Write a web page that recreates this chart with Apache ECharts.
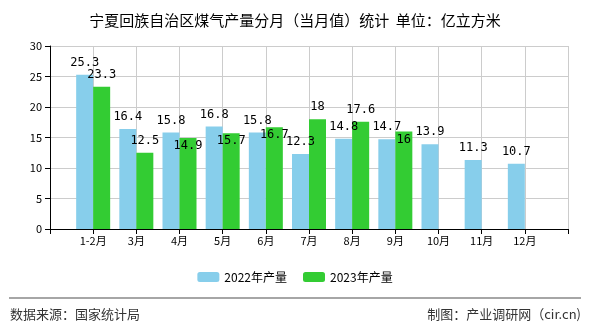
<!DOCTYPE html>
<html><head><meta charset="utf-8">
<script src="https://cdn.jsdelivr.net/npm/echarts@6/dist/echarts.min.js"></script>
<style>html,body{margin:0;padding:0;background:#fff}#c{width:590px;height:330px}</style>
</head><body><div id="c"></div>
<script>
const categories = ['', '1-2月', '3月', '4月', '5月', '6月', '7月', '8月', '9月', '10月', '11月', '12月', ''];
const values2022 = [null, 25.3, 16.4, 15.8, 16.8, 15.8, 12.3, 14.8, 14.7, 13.9, 11.3, 10.7, null];
const values2023 = [null, 23.3, 12.5, 14.9, 15.7, 16.7, 18, 17.6, 16, null, null, null, null];
const seriesNames = ['2022年产量', '2023年产量'];
const yTicks = [0, 5, 10, 15, 20, 25, 30];

const chart = echarts.init(document.getElementById('c'));
const cjk = '"Noto Sans CJK SC", sans-serif';
const mono = '"DejaVu Sans Mono", monospace';
chart.setOption({
  animation: false,
  title: {
    text: '宁夏回族自治区煤气产量分月（当月值）统计  单位：亿立方米',
    left: 'center', top: 8,
    textStyle: {fontSize: 15, fontWeight: 'normal', color: '#000', fontFamily: cjk}
  },
  legend: {
    data: seriesNames, bottom: 42, left: 'center',
    itemWidth: 22, itemHeight: 10, itemGap: 16,
    textStyle: {fontSize: 12, color: '#000', fontFamily: cjk}
  },
  grid: {left: 50, right: 22, top: 46, bottom: 101},
  xAxis: {
    type: 'category', data: categories, boundaryGap: false,
    axisLine: {lineStyle: {color: '#000'}},
    axisTick: {show: true, length: 5, lineStyle: {color: '#000'}},
    axisLabel: {color: '#000', fontSize: 11, fontFamily: cjk, interval: 0, margin: 6},
    splitLine: {show: true, lineStyle: {color: '#ccc'}}
  },
  yAxis: {
    type: 'value', min: yTicks[0], max: yTicks[yTicks.length - 1], interval: 5,
    axisLine: {show: true, lineStyle: {color: '#000'}},
    axisTick: {show: true, length: 5, lineStyle: {color: '#000'}},
    axisLabel: {color: '#000', fontSize: 11, fontFamily: cjk, margin: 8},
    splitLine: {lineStyle: {color: '#ccc'}}
  },
  series: [
    {name: seriesNames[0], type: 'bar', data: values2022, barWidth: 17, barGap: '0%',
     itemStyle: {color: '#87CEEB'},
     label: {show: true, position: 'top', distance: 6, color: '#000', fontSize: 12, fontFamily: mono}},
    {name: seriesNames[1], type: 'bar', data: values2023, barWidth: 17, barGap: '0%',
     itemStyle: {color: '#33CC33'},
     label: {show: true, position: 'top', distance: 6, color: '#000', fontSize: 12, fontFamily: mono},
     labelLayout: function (p) {
       const g = values2023[p.dataIndex], b = values2022[p.dataIndex];
       if (g == null || b == null || !p.rect || !p.rect.height) return {};
       const scale = p.rect.height / g;
       const diffPx = Math.abs(g - b) * scale;
       if (diffPx < 11) {
         const cy = p.labelRect.y + p.labelRect.height / 2;
         return {dy: p.rect.y + 8 - cy};
       }
       return {};
     }}
  ],
  graphic: [
    {type: 'line', shape: {x1: 9, y1: 298, x2: 581, y2: 298}, style: {stroke: '#888', lineWidth: 1.5}},
    {type: 'text', left: 10, top: 308, style: {text: '数据来源：国家统计局', fontSize: 13, fill: '#333', fontFamily: cjk}},
    {type: 'text', right: 9, top: 308, style: {text: '制图：产业调研网（cir.cn)', fontSize: 13, fill: '#333', fontFamily: cjk}}
  ]
});
</script></body></html>
